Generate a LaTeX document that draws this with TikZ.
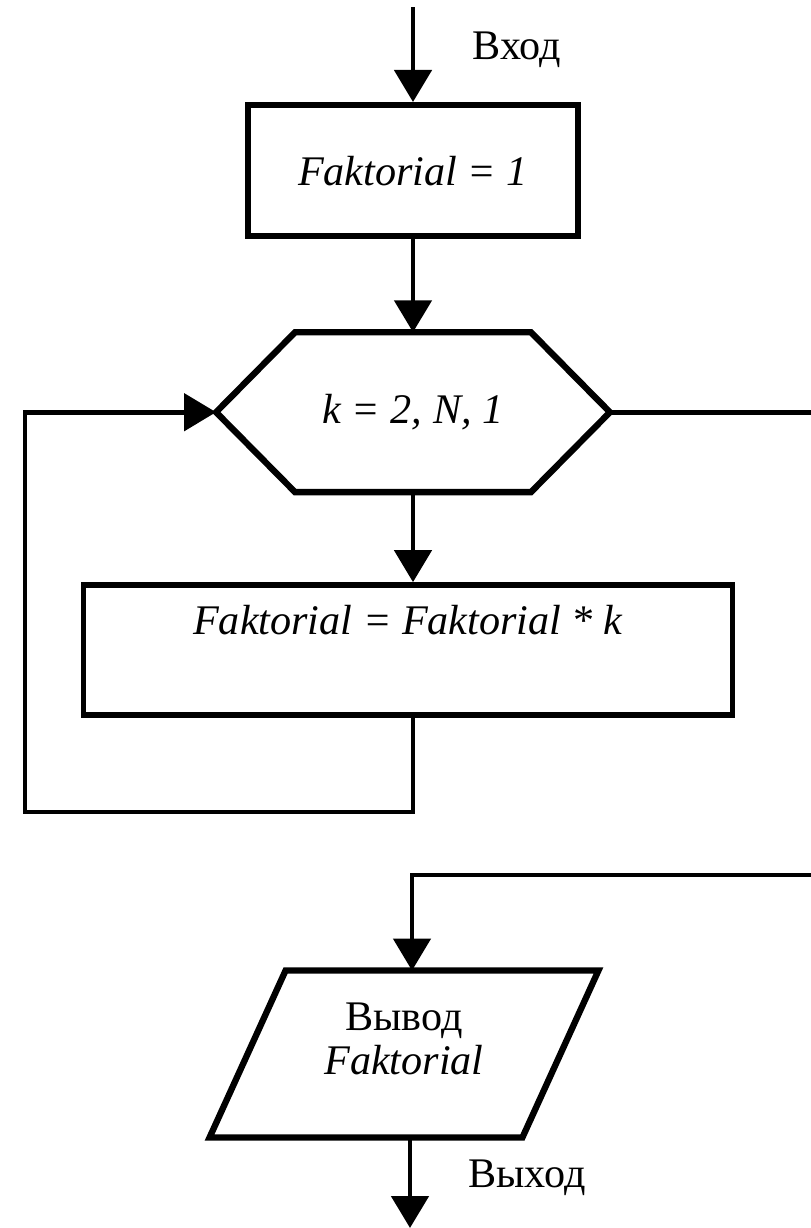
\documentclass[tikz,border=0pt]{standalone}
\usepackage{fontspec}
\setmainfont{Liberation Serif}
\usepackage{tikz}
\usetikzlibrary{arrows.meta, positioning}

\begin{document}
\begin{tikzpicture}[x=0.02cm, y=-0.02cm, >={Triangle[length=0.64cm, width=0.74cm]},
        line width=2.8pt, font=\fontsize{24}{25}\selectfont]
        \tikzstyle{block} = [draw, rectangle, line width=3.6pt, minimum height=2.62cm, minimum width=6.6cm]
        \tikzstyle{hidden} = [rectangle, minimum height=3.24cm]
        \tikzstyle{shapeline} = [line width=3.6pt, line join=miter]

        \useasboundingbox (0,0) rectangle (811,1228);

        % Definición de nodos
        \node at (413,7) [coordinate] (input) {}; % Nodo de entrada
        \node [block, below=1.9cm of input] (inicio) {\textit{Faktorial = 1}};
        \node [hidden, minimum width=7.78cm, minimum height=3.1cm, below=1.86cm of inicio] (ciclo) {\textit{k = 2, N, 1}};
        \node [block, line width=3.2pt, minimum width=12.98cm, minimum height=2.6cm, text height=0.5cm, text depth=1.1cm,
               below=1.8cm of ciclo, xshift=-0.1cm] (cuerpo) {\textit{Faktorial = Faktorial * k}};
        \node at (404,1054) [hidden, minimum width=7.68cm, align=center, text depth=0.62cm] (salida) {Вывод\\\textit{Faktorial}};
        \node at (25,812) [coordinate] (vuelta) {};
        \node at (815,875) [coordinate] (borde) {};
        \node at (412,875) [coordinate] (union) {};
        \node at (410,1228) [coordinate] (output) {}; % Nodo de salida

        % Formas
        \draw[shapeline] (ciclo.west) -- ([xshift=1.58cm]ciclo.north west) -- ([xshift=-1.58cm]ciclo.north east)
                -- (ciclo.east) -- ([xshift=-1.58cm]ciclo.south east) -- ([xshift=1.58cm]ciclo.south west) -- cycle;
        \draw[shapeline] (salida.south west) -- ([xshift=-1.52cm]salida.south east) -- (salida.north east)
                -- ([xshift=1.52cm]salida.north west) -- cycle;

        % Conexiones
        \draw[->] (input) -- (inicio);
        \draw[->] (inicio) -- (ciclo);
        \draw[->] (ciclo.south) -- (ciclo.south |- cuerpo.north);
        \draw[->] (ciclo.south |- cuerpo.south) |- (vuelta) |- (ciclo.west);
        \draw (ciclo.east) -- (ciclo.east -| borde);
        \draw[->] (borde) -- (union) -- (union |- salida.north);
        \draw[->] (output |- salida.south) -- (output);

        \node at (517,50) (entrada) {Вход};
        \node at (527,1178) (fin) {Выход};

        \end{tikzpicture}
\end{document}
